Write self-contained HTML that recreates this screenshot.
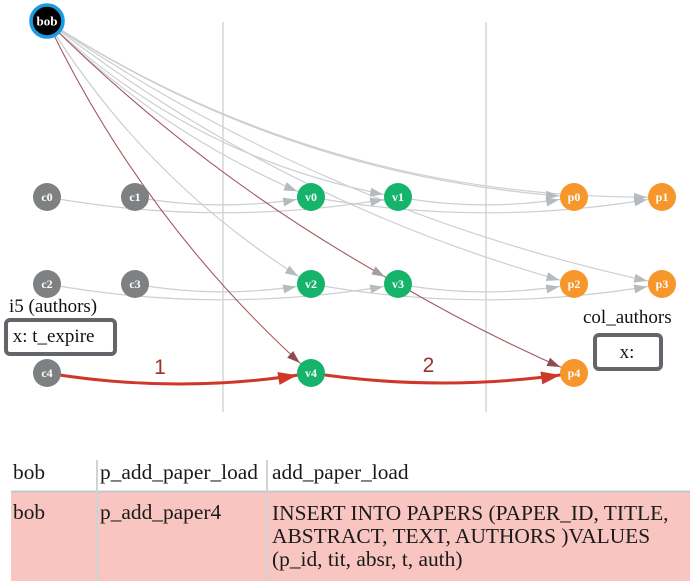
<!DOCTYPE html>
<html>
<head>
<meta charset="utf-8">
<style>
  html, body { margin: 0; padding: 0; background: #ffffff; }
  body { width: 693px; height: 584px; overflow: hidden; }
  svg { display: block; }
  .nl { font-family: "Liberation Serif", serif; font-weight: bold; font-size: 12px; fill: #ffffff; text-anchor: middle; }
  .lbl { font-family: "Liberation Serif", serif; font-size: 19px; fill: #111111; }
  .tb { font-family: "Liberation Serif", serif; font-size: 21.4px; fill: #1a1a1a; }
  .num { font-family: "Liberation Sans", sans-serif; font-size: 21px; fill: #a0302c; text-anchor: middle; }
</style>
</head>
<body>
<svg width="693" height="584" viewBox="0 0 693 584" xmlns="http://www.w3.org/2000/svg">
  <defs>
    <marker id="ag" markerUnits="userSpaceOnUse" markerWidth="13" markerHeight="9" refX="28" refY="4.5" orient="auto" style="overflow:visible">
      <path d="M0,0 L13,4.5 L0,9 z" fill="#b6bbbf"/>
    </marker>
    <marker id="ab" markerUnits="userSpaceOnUse" markerWidth="13" markerHeight="9" refX="28" refY="4.5" orient="auto" style="overflow:visible">
      <path d="M0,0 L13,4.5 L0,9 z" fill="#8f4c50"/>
    </marker>
    <marker id="abg" markerUnits="userSpaceOnUse" markerWidth="13" markerHeight="9" refX="28" refY="4.5" orient="auto" style="overflow:visible">
      <path d="M0,0 L13,4.5 L0,9 z" fill="#a99a9c"/>
    </marker>
    <marker id="ar" markerUnits="userSpaceOnUse" markerWidth="19" markerHeight="13" refX="33" refY="6.5" orient="auto" style="overflow:visible">
      <path d="M0,0 L19,6.5 L0,13 z" fill="#d0372b"/>
    </marker>
  </defs>

  <!-- vertical separators -->
  <line x1="223" y1="22" x2="223" y2="412" stroke="#cdd1d5" stroke-width="1.3"/>
  <line x1="486" y1="22" x2="486" y2="412" stroke="#cdd1d5" stroke-width="1.3"/>

  <!-- gray edges -->
  <g fill="none" stroke="#cbcfd3" stroke-width="1.2" marker-end="url(#ag)">
    <path d="M47,21 Q328.1,201.3 662,197"/>
    <path d="M47,21 Q287.6,177.5 574,197"/>
    <path d="M47,21 Q328.2,214 662,284"/>
    <path d="M47,21 Q284.2,205.2 574,284"/>
    <path d="M47,21 Q196.1,161.7 398,197"/>
    <path d="M47,21 Q161.4,135.4 311,197"/>
    <path d="M47,21 Q147.4,184.2 311,284"/>
    <path d="M135,197 Q223,212.8 311,197"/>
    <path d="M47,197 Q222.5,228.6 398,197"/>
    <path d="M398,197 Q486,212.8 574,197"/>
    <path d="M311,197 Q486.5,228.6 662,197"/>
    <path d="M135,284 Q223,299.8 311,284"/>
    <path d="M47,284 Q222.5,315.6 398,284"/>
    <path d="M398,284 Q486,299.8 574,284"/>
    <path d="M311,284 Q486.5,315.6 662,284"/>
  </g>

  <!-- brown edges -->
  <g fill="none" stroke="#a35a5e" stroke-width="1.1">
    <path d="M47,21 Q204.1,177.1 398,284" marker-end="url(#abg)"/>
    <path d="M47,21 Q143.8,223.4 311,373" marker-end="url(#ab)"/>
    <path d="M398,284 Q483.3,333.8 574,373" marker-end="url(#ab)"/>
  </g>

  <!-- red edges -->
  <g fill="none" stroke="#d0372b" stroke-width="3">
    <path d="M47,373 Q179,395 311,373" marker-end="url(#ar)"/>
    <path d="M311,373 Q442.5,393 574,373" marker-end="url(#ar)"/>
  </g>

  <!-- edge labels -->
  <text class="num" x="160" y="374">1</text>
  <text class="num" x="428.5" y="372">2</text>

  <!-- nodes -->
  <g>
    <circle cx="47" cy="21" r="16" fill="#000000" stroke="#1b9ce2" stroke-width="3.6"/>
    <text class="nl" x="47" y="25.5" style="font-size:13px">bob</text>

    <g fill="#7e8082">
      <circle cx="47" cy="197" r="14"/>
      <circle cx="135" cy="197" r="14"/>
      <circle cx="47" cy="284" r="14"/>
      <circle cx="135" cy="284" r="14"/>
      <circle cx="47" cy="373" r="14"/>
    </g>
    <g fill="#15b46a">
      <circle cx="311" cy="197" r="14"/>
      <circle cx="398" cy="197" r="14"/>
      <circle cx="311" cy="284" r="14"/>
      <circle cx="398" cy="284" r="14"/>
      <circle cx="311" cy="373" r="14"/>
    </g>
    <g fill="#f7962b">
      <circle cx="574" cy="197" r="14"/>
      <circle cx="662" cy="197" r="14"/>
      <circle cx="574" cy="284" r="14"/>
      <circle cx="662" cy="284" r="14"/>
      <circle cx="574" cy="373" r="14"/>
    </g>

    <text class="nl" x="47" y="201">c0</text>
    <text class="nl" x="135" y="201">c1</text>
    <text class="nl" x="47" y="288">c2</text>
    <text class="nl" x="135" y="288">c3</text>
    <text class="nl" x="47" y="377">c4</text>
    <text class="nl" x="311" y="201">v0</text>
    <text class="nl" x="398" y="201">v1</text>
    <text class="nl" x="311" y="288">v2</text>
    <text class="nl" x="398" y="288">v3</text>
    <text class="nl" x="311" y="377">v4</text>
    <text class="nl" x="574" y="201">p0</text>
    <text class="nl" x="662" y="201">p1</text>
    <text class="nl" x="574" y="288">p2</text>
    <text class="nl" x="662" y="288">p3</text>
    <text class="nl" x="574" y="377">p4</text>
  </g>

  <!-- annotation boxes -->
  <text class="lbl" x="9" y="312">i5 (authors)</text>
  <rect x="6" y="320" width="109" height="34" rx="4" ry="4" fill="#ffffff" stroke="#62666a" stroke-width="4"/>
  <text class="lbl" x="12.7" y="342">x: t_expire</text>

  <text class="lbl" x="583" y="323">col_authors</text>
  <rect x="595" y="335" width="66" height="34" rx="4" ry="4" fill="#ffffff" stroke="#62666a" stroke-width="4"/>
  <text class="lbl" x="627" y="358" text-anchor="middle">x:</text>

  <!-- table -->
  <rect x="11" y="492" width="679" height="89" fill="#f8c5c0"/>
  <rect x="11" y="490.5" width="679" height="2" fill="#c4c8cc"/>
  <rect x="96" y="460" width="2" height="121" fill="#cfd3d6"/>
  <rect x="266" y="460" width="2" height="121" fill="#cfd3d6"/>

  <text class="tb" x="13" y="479">bob</text>
  <text class="tb" x="100" y="479">p_add_paper_load</text>
  <text class="tb" x="272" y="479">add_paper_load</text>

  <text class="tb" x="13" y="519">bob</text>
  <text class="tb" x="100" y="519">p_add_paper4</text>
  <text class="tb" x="272" y="520">INSERT INTO PAPERS (PAPER_ID, TITLE,</text>
  <text class="tb" x="272" y="543">ABSTRACT, TEXT, AUTHORS )VALUES</text>
  <text class="tb" x="272" y="566">(p_id, tit, absr, t, auth)</text>
</svg>
</body>
</html>
